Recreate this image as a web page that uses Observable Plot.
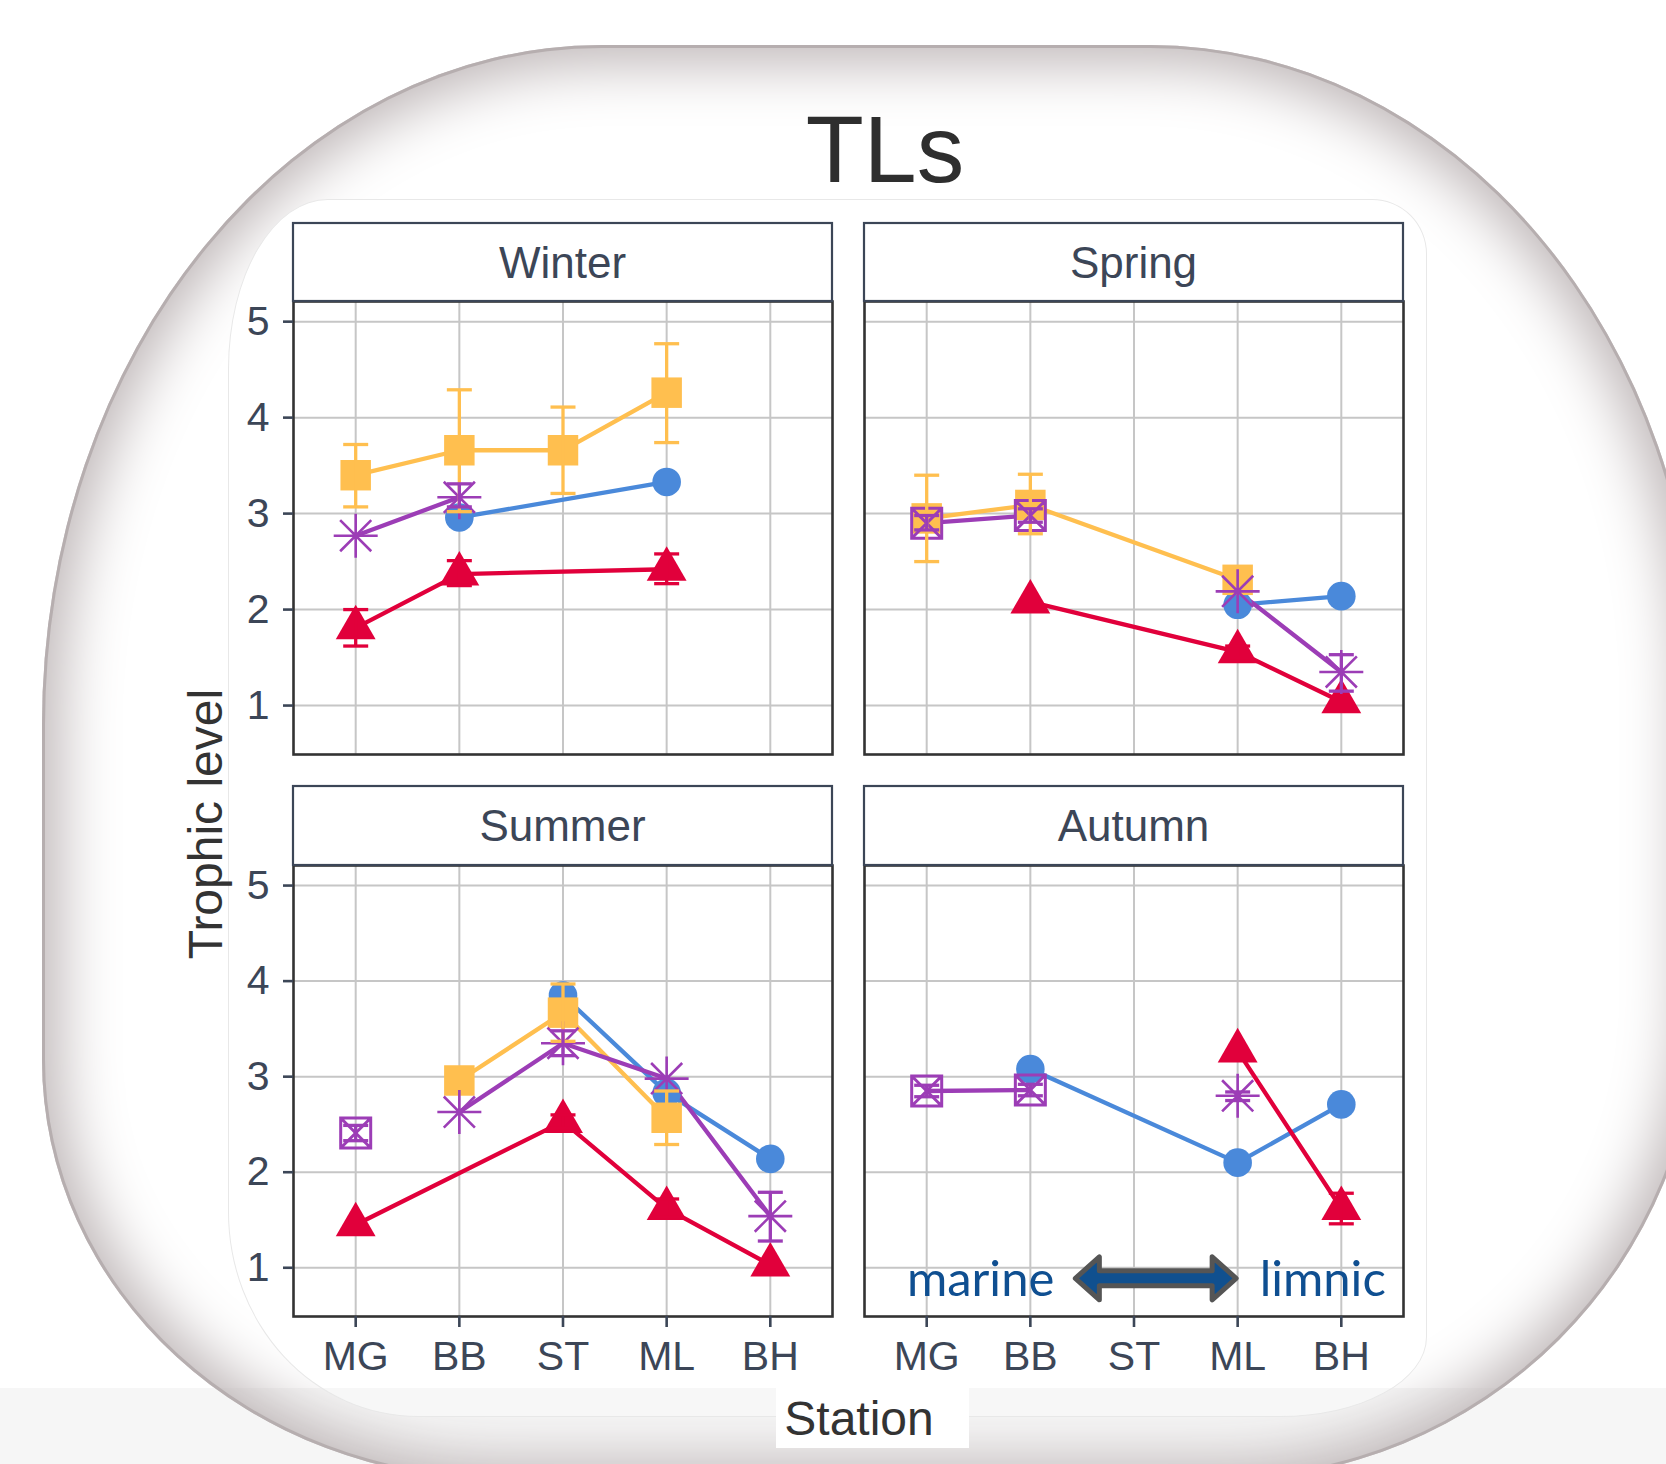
<!DOCTYPE html>
<html>
<head>
<meta charset="utf-8">
<title>TLs</title>
<script src="https://cdn.jsdelivr.net/npm/d3@7"></script>
<script src="https://cdn.jsdelivr.net/npm/@observablehq/plot@0.6"></script>
<style>
html,body{margin:0;padding:0;background:#fff;}
#root{position:relative;width:1666px;height:1464px;overflow:hidden;background:#fff;}
.abs{position:absolute;}
#band{left:0;top:1388px;width:1666px;height:76px;background:#f6f6f6;}
#frame{left:42px;top:45px;width:1658px;height:1435px;border-radius:560px 550px 480px 460px / 680px 650px 480px 420px;box-shadow:inset 0 0 0 3px #b6aeaf, inset 0 0 60px 18px #bdb5b6;}
#paste{left:228px;top:199px;width:1199px;height:1218px;box-sizing:border-box;border:1px solid #e8e8e8;border-radius:100px 55px 147px 190px / 170px 55px 80px 205px;background:linear-gradient(to bottom,#fff 0,#fff 1188px,#f7f7f7 1188px);}
#stationbox{left:776px;top:1388px;width:193px;height:60px;background:#fff;}
</style>
</head>
<body>
<div id="root">
  <div id="band" class="abs"></div>
  <div id="frame" class="abs"></div>
  <div id="paste" class="abs"></div>
  <div id="stationbox" class="abs"></div>
</div>
<script>
// ---------------- data ----------------
const stations = ["MG", "BB", "ST", "ML", "BH"];
const seasons = ["Winter", "Spring", "Summer", "Autumn"];
const yTicks = [1, 2, 3, 4, 5];

// [season, station, mean trophic level, lower, upper]
const circleSeries = [
  ["Winter", "BB", 2.96, null, null],
  ["Winter", "ML", 3.33, null, null],
  ["Spring", "ML", 2.05, null, null],
  ["Spring", "BH", 2.14, null, null],
  ["Summer", "ST", 3.85, null, null],
  ["Summer", "ML", 2.83, null, null],
  ["Summer", "BH", 2.14, null, null],
  ["Autumn", "BB", 3.08, null, null],
  ["Autumn", "ML", 2.10, null, null],
  ["Autumn", "BH", 2.71, null, null]
];
const squareSeries = [
  ["Winter", "MG", 3.40, 3.07, 3.72],
  ["Winter", "BB", 3.66, 3.02, 4.29],
  ["Winter", "ST", 3.66, 3.21, 4.11],
  ["Winter", "ML", 4.26, 3.74, 4.77],
  ["Spring", "MG", 2.95, 2.50, 3.40],
  ["Spring", "BB", 3.09, 2.79, 3.41],
  ["Spring", "ML", 2.31, null, null],
  ["Summer", "BB", 2.96, null, null],
  ["Summer", "ST", 3.67, 3.37, 3.97],
  ["Summer", "ML", 2.57, 2.29, 2.85]
];
const triangleSeries = [
  ["Winter", "MG", 1.81, 1.62, 2.00],
  ["Winter", "BB", 2.37, 2.25, 2.51],
  ["Winter", "ML", 2.42, 2.27, 2.58],
  ["Spring", "BB", 2.08, null, null],
  ["Spring", "ML", 1.56, 1.50, 1.62],
  ["Spring", "BH", 1.04, null, null],
  ["Summer", "MG", 1.45, null, null],
  ["Summer", "ST", 2.53, 2.46, 2.60],
  ["Summer", "ML", 1.62, 1.53, 1.72],
  ["Summer", "BH", 1.03, null, null],
  ["Autumn", "ML", 3.27, null, null],
  ["Autumn", "BH", 1.62, 1.46, 1.78]
];
const asteriskSeries = [
  ["Winter", "MG", 2.77, null, null],
  ["Winter", "BB", 3.17, 3.07, 3.31],
  ["Spring", "ML", 2.19, null, null],
  ["Spring", "BH", 1.35, 1.15, 1.53],
  ["Summer", "BB", 2.63, null, null],
  ["Summer", "ST", 3.35, 3.22, 3.48],
  ["Summer", "ML", 2.98, null, null],
  ["Summer", "BH", 1.54, 1.28, 1.79],
  ["Autumn", "ML", 2.80, 2.75, 2.84]
];
const squareCrossSeries = [
  ["Spring", "MG", 2.90, 2.83, 2.98],
  ["Spring", "BB", 2.98, 2.91, 3.05],
  ["Summer", "MG", 2.41, 2.33, 2.49],
  ["Autumn", "MG", 2.85, 2.79, 2.91],
  ["Autumn", "BB", 2.86, 2.80, 2.92]
];
const marineLabel = [{label: "marine", station: "BB", tl: 0.70}];
const limnicLabel = [{label: "limnic", station: "ML", tl: 0.70}];
const arrowSpan = {from: "BB", to: "ML", tl: 0.884};

// ---------------- symbols ----------------
const asteriskSym = {draw(ctx, size) {
  const r = Math.sqrt(size / Math.PI), d = r * Math.SQRT1_2;
  ctx.moveTo(-r, 0); ctx.lineTo(r, 0);
  ctx.moveTo(0, -r); ctx.lineTo(0, r);
  ctx.moveTo(-d, -d); ctx.lineTo(d, d);
  ctx.moveTo(-d, d); ctx.lineTo(d, -d);
}};
const squareCrossSym = {draw(ctx, size) {
  const r = Math.sqrt(size / Math.PI);
  ctx.moveTo(-r, -r); ctx.lineTo(r, -r); ctx.lineTo(r, r); ctx.lineTo(-r, r); ctx.closePath();
  ctx.moveTo(-r, -r); ctx.lineTo(r, r);
  ctx.moveTo(-r, r); ctx.lineTo(r, -r);
}};
const capSym = {draw(ctx, size) {
  const r = Math.sqrt(size / Math.PI);
  ctx.moveTo(-r, 0); ctx.lineTo(r, 0);
}};

const seriesList = [
  {key: "circle", rows: circleSeries, color: "#4A89DA", symbol: "circle", r: 14.3, filled: true},
  {key: "square", rows: squareSeries, color: "#FFBF4F", symbol: "square", r: 17.2, filled: true},
  {key: "triangle", rows: triangleSeries, color: "#E1003B", symbol: "triangle", r: 14.8, filled: true},
  {key: "asterisk", rows: asteriskSeries, color: "#9C3DB6", symbol: asteriskSym, r: 22, filled: false, sw: 2.6},
  {key: "squarecross", rows: squareCrossSeries, color: "#9C3DB6", symbol: squareCrossSym, r: 15, filled: false, sw: 3}
];

const data = [];
for (const s of seriesList) {
  for (const [season, station, tl, lo, hi] of s.rows) data.push({series: s.key, season, station, tl, lo, hi});
}
data.sort((a, b) => stations.indexOf(a.station) - stations.indexOf(b.station));

// ---------------- layout ----------------
const W = 539;
const colX = [293, 864];
const stripY = [223, 786];
const stripH = [78, 79];
const panelY = [301, 865];
const panelH = [453, 451];
const pos = {Winter: [0, 0], Spring: [1, 0], Summer: [0, 1], Autumn: [1, 1]};
const M = {l: 90, r: 12, t: 12, b: 72};
const yDomain = [0.49, 5.21];
const axisColor = "#3C4657";
const font = "'Liberation Sans', Arial, Helvetica, sans-serif";
const noteFont = "Lato, 'Open Sans', sans-serif";

const root = document.getElementById("root");

function arrowMark(index, scales) {
  const x0 = scales.x(arrowSpan.from) + 45.5;
  const x1 = scales.x(arrowSpan.to) - 1;
  const yc = scales.y(arrowSpan.tl);
  const hl = 24, hh = 21.5, sh = 7.5;
  const p = [
    [x0, yc], [x0 + hl, yc - hh], [x0 + hl, yc - sh], [x1 - hl, yc - sh], [x1 - hl, yc - hh],
    [x1, yc], [x1 - hl, yc + hh], [x1 - hl, yc + sh], [x0 + hl, yc + sh], [x0 + hl, yc + hh]
  ];
  return d3.create("svg:path")
    .attr("d", "M" + p.map(q => q.join(",")).join("L") + "Z")
    .attr("fill", "#10508F")
    .attr("stroke", "#555555")
    .attr("stroke-width", 5)
    .attr("stroke-linejoin", "round")
    .node();
}

for (const season of seasons) {
  const [col, row] = pos[season];
  const H = panelH[row];
  const d = data.filter(r => r.season === season);
  const marks = [
    Plot.ruleX(stations, {stroke: "#c6c6c6", strokeWidth: 2}),
    Plot.ruleY(yTicks, {stroke: "#c6c6c6", strokeWidth: 2})
  ];
  for (const s of seriesList) {
    marks.push(Plot.line(d.filter(r => r.series === s.key), {x: "station", y: "tl", stroke: s.color, strokeWidth: 4.3}));
  }
  for (const s of seriesList) {
    const rows = d.filter(r => r.series === s.key);
    marks.push(Plot.dot(rows, s.filled
      ? {x: "station", y: "tl", symbol: s.symbol, r: s.r, fill: s.color, stroke: "none"}
      : {x: "station", y: "tl", symbol: s.symbol, r: s.r, fill: "none", stroke: s.color, strokeWidth: s.sw}));
  }
  for (const s of seriesList) {
    const eb = d.filter(r => r.series === s.key && r.lo != null);
    marks.push(Plot.ruleX(eb, {x: "station", y1: "lo", y2: "hi", stroke: s.color, strokeWidth: 3.3}));
    marks.push(Plot.dot(eb, {x: "station", y: "lo", symbol: capSym, r: 12.5, fill: "none", stroke: s.color, strokeWidth: 3.3}));
    marks.push(Plot.dot(eb, {x: "station", y: "hi", symbol: capSym, r: 12.5, fill: "none", stroke: s.color, strokeWidth: 3.3}));
  }
  if (season === "Autumn") {
    marks.push(Plot.text(marineLabel, {
      x: "station", y: "tl", text: "label", textAnchor: "end", dx: 24,
      lineAnchor: "bottom", fontSize: 49, fontFamily: noteFont, fill: "#0F4F91"
    }));
    marks.push(Plot.text(limnicLabel, {
      x: "station", y: "tl", text: "label", textAnchor: "start", dx: 22,
      lineAnchor: "bottom", fontSize: 49, fontFamily: noteFont, fill: "#0F4F91"
    }));
    marks.push(arrowMark);
  }
  marks.push(Plot.frame({stroke: "#333333", strokeWidth: 2.6}));
  if (col === 0) {
    marks.push(Plot.axisY({ticks: yTicks, tickFormat: (v) => String(v), tickSize: 10, tickPadding: 14, stroke: axisColor, strokeWidth: 2.6, fill: axisColor, fontSize: 41, label: null}));
  }
  if (row === 1) {
    marks.push(Plot.axisX({tickSize: 11, tickPadding: 13, stroke: axisColor, strokeWidth: 2.6, fill: axisColor, fontSize: 41, label: null}));
  }
  const svg = Plot.plot({
    width: W + M.l + M.r,
    height: H + M.t + M.b,
    marginLeft: M.l, marginRight: M.r, marginTop: M.t, marginBottom: M.b,
    style: {background: "transparent", overflow: "visible", fontFamily: font, fontSize: "41px", color: axisColor},
    x: {type: "point", domain: stations, padding: 0.6, round: false, axis: null},
    y: {domain: yDomain, axis: null},
    marks
  });
  svg.style.position = "absolute";
  svg.style.left = (colX[col] - M.l) + "px";
  svg.style.top = (panelY[row] - M.t) + "px";
  svg.style.maxWidth = "none";
  root.appendChild(svg);
}

// ---------------- overlay texts: strips, title, axis titles ----------------
const ov = d3.create("svg")
  .attr("width", 1666).attr("height", 1464)
  .style("position", "absolute").style("left", "0px").style("top", "0px")
  .style("pointer-events", "none")
  .style("font-family", font);

for (const season of seasons) {
  const [col, row] = pos[season];
  ov.append("rect")
    .attr("x", colX[col]).attr("y", stripY[row])
    .attr("width", W).attr("height", stripH[row])
    .attr("fill", "#fff").attr("stroke", axisColor).attr("stroke-width", 2.2);
  ov.append("text")
    .attr("x", colX[col] + W / 2).attr("y", stripY[row] + stripH[row] / 2 + 15.5)
    .attr("text-anchor", "middle").attr("font-size", 44).attr("fill", axisColor)
    .text(season);
}
ov.append("text").attr("x", 885).attr("y", 182).attr("text-anchor", "middle")
  .attr("font-size", 95).attr("fill", "#2e2e2e").text("TLs");
ov.append("text").attr("x", 859).attr("y", 1435).attr("text-anchor", "middle")
  .attr("font-size", 48).attr("fill", "#333").text("Station");
ov.append("text").attr("transform", "translate(222,824) rotate(-90)").attr("text-anchor", "middle")
  .attr("font-size", 48).attr("fill", "#333").text("Trophic level");
root.appendChild(ov.node());
</script>
</body>
</html>
